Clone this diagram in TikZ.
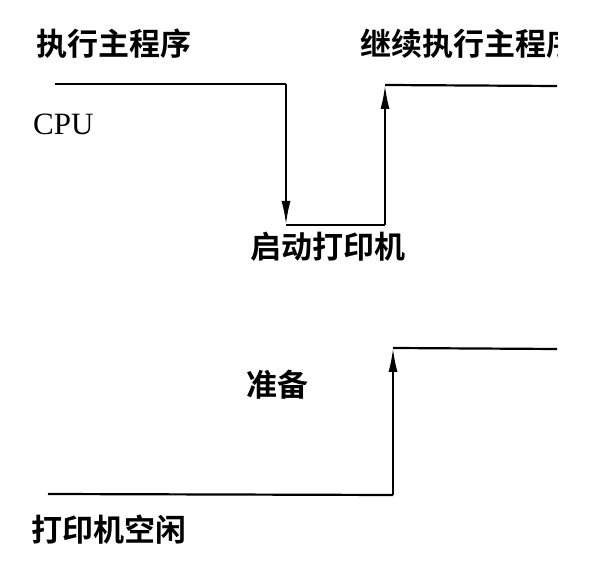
\documentclass[tikz,border=0pt]{standalone}
\usepackage{fontspec}
\setmainfont{Liberation Serif}
\newfontfamily\cjk{Noto Sans CJK SC}[BoldFont={* Bold}]
\usetikzlibrary{arrows.meta}
\begin{document}
\begin{tikzpicture}[x=1pt,y=-1pt,
  sig/.style={line width=2.2pt, line join=miter},
  arr/.style={sig, -{Latex[length=24pt,width=9pt]}},
  lab/.style={font=\cjk\bfseries\fontsize{31}{36}\selectfont, inner sep=0pt, anchor=center},
  cpulab/.style={font=\fontsize{31}{36}\selectfont, inner sep=0pt}]
\useasboundingbox (0,0) rectangle (590,561);
\fill[white] (0,0) rectangle (590,561);
% CPU signal
\coordinate (c0) at (55,84);
\coordinate (c1) at (286,84);
\coordinate (c2) at (286,225);
\coordinate (c3) at (385,225);
\coordinate (c4) at (385,85);
\coordinate (c5) at (557,86);
\draw[sig] (c0) -- (c1);
\draw[arr] (c1) -- (c2);
\draw[sig] (c2) -- (c3);
\draw[arr] (c3) -- (c4);
\draw[sig] (c4) -- (c5);
% printer signal
\coordinate (p0) at (48,494);
\coordinate (p1) at (393,495);
\coordinate (p2) at (393,348);
\coordinate (p3) at (557,349);
\draw[sig] (p0) -- (p1);
\draw[arr] (p1) -- (p2);
\draw[sig] (p2) -- (p3);
% labels
\node[lab, anchor=west] (main) at (36,44) {执行主程序};
\node[cpulab, anchor=west] (cpu) at (33,124) {CPU};
\begin{scope}
  \clip (0,0) rectangle (557,561);
  \node[lab, anchor=west] (cont) at (360,44) {继续执行主程序};
\end{scope}
\node[lab] (start) at (328,247) {启动打印机};
\node[lab] (prep) at (277,385) {准备};
\node[lab] (idle) at (109,530) {打印机空闲};
\end{tikzpicture}
\end{document}
